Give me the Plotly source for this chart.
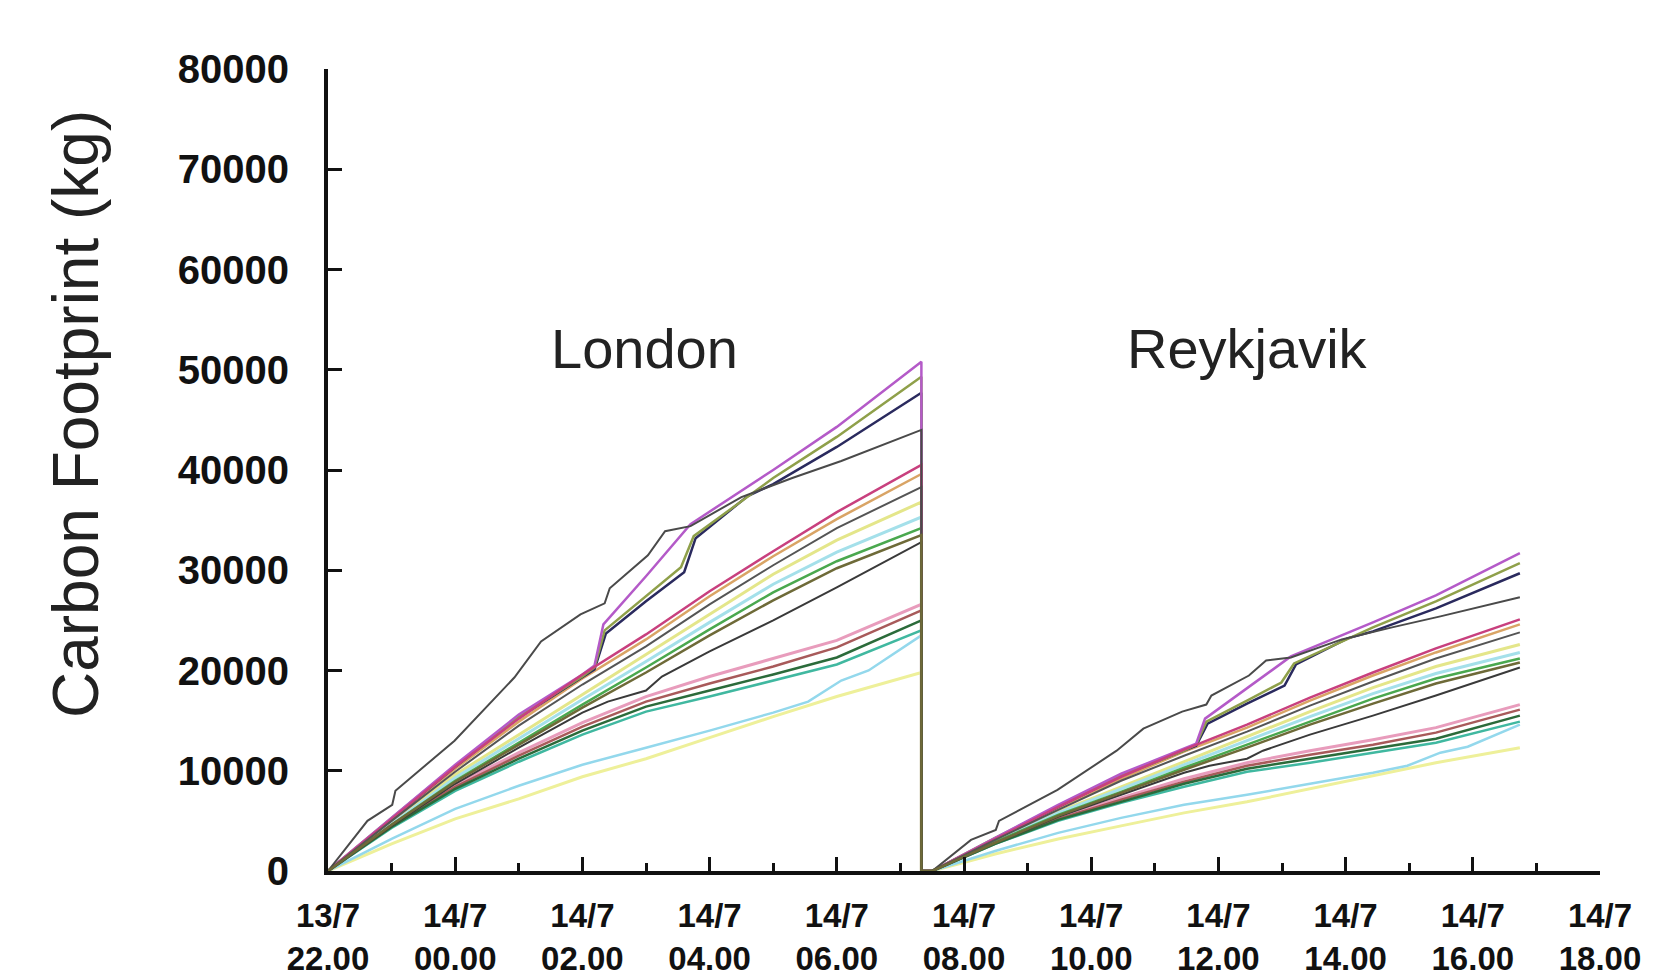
import plotly.graph_objects as go

# ---------------- data (hours after 13/7 22:00, kg CO2) ----------------
T_L = [0, 1, 2, 3, 4, 5, 6, 7, 8, 9.33]
T_R = [9.5, 10.49, 11.48, 12.47, 13.46, 14.45, 15.44, 16.43, 17.42, 18.74]

violet_tL = [0, 1, 2, 3, 4, 4.19, 4.33, 5.0, 5.7, 7, 8, 9.33]
violet_L = [0, 5300, 10600, 15600, 19600, 20500, 24600, 29400, 34600, 40000, 44300, 50800]
violet_tR = [9.5, 10.49, 11.48, 12.47, 13.46, 13.65, 13.79, 14.45, 15.14, 16.43, 17.42, 18.74]
violet_R = [0, 3300, 6600, 9700, 12200, 12700, 15200, 18200, 21400, 24800, 27500, 31700]

olive_tL = [0, 1, 2, 3, 4, 4.19, 4.35, 5.0, 5.55, 5.75, 7, 8, 9.33]
olive_L = [0, 5300, 10500, 15400, 19400, 20300, 24000, 27400, 30300, 33400, 39200, 43300, 49300]
olive_tR = [9.5, 10.49, 11.48, 12.47, 13.46, 13.65, 13.81, 14.45, 14.99, 15.19, 16.43, 17.42, 18.74]
olive_R = [0, 3300, 6500, 9500, 12000, 12600, 14900, 17000, 18800, 20700, 24300, 26900, 30700]

navy_tL = [0, 1, 2, 3, 4, 4.19, 4.37, 5.0, 5.6, 5.78, 6.6, 7, 8, 9.33]
navy_L = [0, 5200, 10400, 15300, 19300, 20100, 23700, 26900, 29800, 33200, 37400, 38600, 42300, 47700]
navy_tR = [9.5, 10.49, 11.48, 12.47, 13.46, 13.65, 13.83, 14.45, 15.04, 15.22, 16.03, 16.43, 17.42, 18.74]
navy_R = [0, 3200, 6400, 9500, 12000, 12500, 14700, 16700, 18500, 20600, 23200, 23900, 26200, 29700]

outlier_tL = [0, 0.62, 1.01, 1.06, 1.99, 2.93, 3.35, 3.97, 4.35, 4.43, 5.03, 5.3, 5.7, 6.5, 7.3, 8.07, 9.33]
outlier_L = [0, 5000, 6600, 8000, 13000, 19300, 22900, 25600, 26700, 28200, 31500, 33900, 34400, 37300, 39200, 40900, 44000]
outlier_tR = [9.5, 10.11, 10.5, 10.55, 11.47, 12.4, 12.82, 13.43, 13.81, 13.89, 14.48, 14.75, 15.14, 15.94, 16.73, 17.49, 18.74]
outlier_R = [0, 3100, 4100, 5000, 8100, 12000, 14200, 15900, 16600, 17500, 19500, 21000, 21300, 23100, 24300, 25400, 27300]

magenta_L = [0, 5200, 10400, 15200, 19600, 23600, 27900, 31900, 35800, 40500]
magenta_R = [0, 3200, 6400, 9400, 12100, 14600, 17300, 19800, 22200, 25100]
tan_L = [0, 5100, 10200, 14900, 19200, 23100, 27400, 31400, 35100, 39600]
tan_R = [0, 3200, 6300, 9200, 11900, 14300, 17000, 19500, 21800, 24600]
grayB_L = [0, 5000, 9900, 14500, 18600, 22400, 26600, 30500, 34200, 38300]
grayB_R = [0, 3100, 6100, 9000, 11500, 13900, 16500, 18900, 21200, 23800]

ltyellow_L = [0, 4800, 9600, 13600, 17600, 21600, 25600, 29600, 33000, 36800]
ltyellow_R = [0, 3000, 5900, 8400, 10900, 13400, 15900, 18300, 20400, 22600]
ltcyan_L = [0, 4700, 9300, 13200, 17100, 20900, 24800, 28600, 31800, 35300]
ltcyan_R = [0, 2900, 5800, 8200, 10600, 13000, 15400, 17700, 19700, 21800]
green_L = [0, 4600, 9000, 12800, 16600, 20300, 24100, 27800, 30900, 34200]
green_R = [0, 2900, 5600, 7900, 10300, 12600, 14900, 17200, 19200, 21200]
dkolive_L = [0, 4600, 8900, 12600, 16300, 19800, 23500, 27000, 30200, 33500]
dkolive_R = [0, 2800, 5500, 7800, 10100, 12300, 14600, 16700, 18700, 20800]

bump_tL = [0, 1, 2, 3, 4, 4.4, 5.0, 5.25, 6, 7, 8, 9.33]
bump_L = [0, 4500, 8700, 12300, 15800, 16900, 18000, 19400, 21900, 25000, 28300, 32800]
bump_tR = [9.5, 10.49, 11.48, 12.47, 13.46, 13.86, 14.45, 14.7, 15.44, 16.43, 17.42, 18.74]
bump_R = [0, 2800, 5400, 7600, 9800, 10500, 11200, 12000, 13600, 15500, 17500, 20300]

pink_L = [0, 4600, 8600, 11800, 14800, 17400, 19400, 21200, 23000, 26600]
pink_R = [0, 2900, 5300, 7300, 9200, 10800, 12000, 13100, 14300, 16600]
brown_L = [0, 4500, 8400, 11500, 14400, 16900, 18700, 20400, 22300, 26000]
brown_R = [0, 2800, 5200, 7100, 8900, 10500, 11600, 12600, 13800, 16100]
dkgreen_L = [0, 4400, 8200, 11200, 14000, 16400, 18000, 19600, 21300, 25000]
dkgreen_R = [0, 2700, 5100, 6900, 8700, 10200, 11200, 12200, 13200, 15500]
teal_L = [0, 4300, 8000, 10900, 13600, 15900, 17400, 19000, 20600, 24000]
teal_R = [0, 2700, 5000, 6800, 8400, 9900, 10800, 11800, 12800, 14900]

cyanlow_tL = [0, 1, 2, 3, 4, 4.4, 5, 6, 7, 7.55, 8.07, 8.5, 9.33]
cyanlow_L = [0, 3200, 6200, 8500, 10600, 11300, 12300, 14000, 15800, 16900, 19000, 20000, 23500]
cyanlow_tR = [9.5, 10.49, 11.48, 12.47, 13.46, 13.86, 14.45, 15.44, 16.43, 16.97, 17.49, 17.92, 18.74]
cyanlow_R = [0, 2000, 3800, 5300, 6600, 7000, 7600, 8700, 9800, 10500, 11800, 12400, 14600]

ylow_L = [0, 2700, 5200, 7200, 9400, 11200, 13300, 15400, 17400, 19800]
ylow_R = [0, 1700, 3200, 4500, 5800, 6900, 8200, 9500, 10800, 12300]

# (colour, width, London times, London values, Reykjavik times, Reykjavik values), drawn in this order
series = [
    ("#eef09a", 3.0, T_L, ylow_L, T_R, ylow_R),
    ("#93d8ec", 2.5, cyanlow_tL, cyanlow_L, cyanlow_tR, cyanlow_R),
    ("#e4e68a", 3.0, T_L, ltyellow_L, T_R, ltyellow_R),
    ("#a4e0ea", 3.0, T_L, ltcyan_L, T_R, ltcyan_R),
    ("#e89cbc", 3.0, T_L, pink_L, T_R, pink_R),
    ("#40b8a0", 2.5, T_L, teal_L, T_R, teal_R),
    ("#d9a465", 2.5, T_L, tan_L, T_R, tan_R),
    ("#4aa84e", 2.5, T_L, green_L, T_R, green_R),
    ("#2a2a5e", 2.5, navy_tL, navy_L, navy_tR, navy_R),
    ("#8fa04a", 2.5, olive_tL, olive_L, olive_tR, olive_R),
    ("#b45ac8", 2.5, violet_tL, violet_L, violet_tR, violet_R),
    ("#c8407e", 2.5, T_L, magenta_L, T_R, magenta_R),
    ("#a85a5a", 2.5, T_L, brown_L, T_R, brown_R),
    ("#2b6b3a", 2.5, T_L, dkgreen_L, T_R, dkgreen_R),
    ("#555555", 2.0, T_L, grayB_L, T_R, grayB_R),
    ("#3a3a3a", 2.0, bump_tL, bump_L, bump_tR, bump_R),
    ("#4a4a4a", 2.0, outlier_tL, outlier_L, outlier_tR, outlier_R),
    ("#6e6a38", 2.5, T_L, dkolive_L, T_R, dkolive_R),
]

tick_hours = [0, 2, 4, 6, 8, 10, 12, 14, 16, 18, 20]
tick_text = ["13/7<br>22.00", "14/7<br>00.00", "14/7<br>02.00", "14/7<br>04.00",
             "14/7<br>06.00", "14/7<br>08.00", "14/7<br>10.00", "14/7<br>12.00",
             "14/7<br>14.00", "14/7<br>16.00", "14/7<br>18.00"]
panel_labels = ["London", "Reykjavik"]
panel_x = [4.97, 14.45]
panel_y = [52100, 52100]
y_title = "Carbon Footprint (kg)"

FONT = "Liberation Sans, Arial, Helvetica, sans-serif"

fig = go.Figure()
for colour, w, tl, yl, tr, yr in series:
    # London run, reset to zero at the end of the London window, then Reykjavik run
    xs = list(tl) + [tl[-1]] + list(tr)
    ys = list(yl) + [0] + list(yr)
    fig.add_trace(go.Scatter(x=xs, y=ys, mode="lines",
                             line=dict(color=colour, width=w),
                             showlegend=False, hoverinfo="skip"))

for txt, px, py in zip(panel_labels, panel_x, panel_y):
    fig.add_annotation(x=px, y=py, text=txt, showarrow=False,
                       font=dict(family=FONT, size=56, color="#222222"),
                       xanchor="center", yanchor="middle")

# rotated y-axis title
fig.add_annotation(x=-0.198, y=0.57, xref="paper", yref="paper", text=y_title,
                   textangle=-90, showarrow=False, xanchor="center", yanchor="middle",
                   font=dict(family=FONT, size=64, color="#222222"))

fig.update_layout(
    width=1675, height=980,
    margin=dict(l=320, r=83, t=61, b=117),
    paper_bgcolor="white", plot_bgcolor="white",
    showlegend=False,
    font=dict(family=FONT, color="#111111"),
)
fig.update_xaxes(
    range=[0, 20], tickvals=tick_hours, ticktext=tick_text,
    showgrid=False, zeroline=False,
    showline=True, linecolor="#111111", linewidth=4,
    ticks="inside", ticklen=14, tickwidth=3, tickcolor="#111111",
    minor=dict(dtick=1, tick0=0, ticks="inside", ticklen=8, tickwidth=3, tickcolor="#111111"),
    tickfont=dict(family=FONT, size=33, weight="bold", color="#111111"),
    ticklabelstandoff=12,
)
fig.update_yaxes(
    range=[0, 80000], dtick=10000, tick0=0, tickformat="d",
    showgrid=False, zeroline=False,
    showline=True, linecolor="#111111", linewidth=4,
    ticks="inside", ticklen=14, tickwidth=3, tickcolor="#111111",
    tickfont=dict(family=FONT, size=40, weight="bold", color="#111111"),
    ticklabelstandoff=27,
)

fig.write_html("out.html")
